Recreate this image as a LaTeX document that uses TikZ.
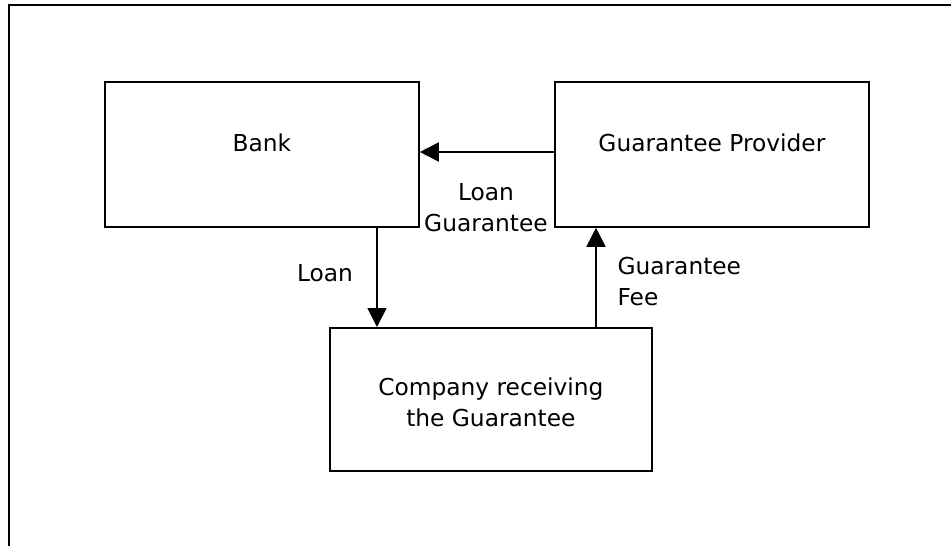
\documentclass[tikz,border=0pt]{standalone}
\usepackage{fontspec}
\setmainfont{DejaVu Sans}
\usetikzlibrary{arrows.meta,calc}

\begin{document}
\begin{tikzpicture}[x=1pt, y=-1pt,
    font=\fontsize{23.3}{31}\selectfont,
    box/.style={draw, line width=1.8pt, minimum width=314pt, minimum height=145pt, inner sep=0pt},
    flow/.style={line width=1.8pt, -{Triangle[length=19pt, width=19pt]}}]

    \useasboundingbox (0,0) rectangle (951,546);

    % 外枠
    \draw[line width=2.2pt] (9,546) -- (9,5) -- (951,5);

    % 箱
    \node[box, anchor=north west] (bank) at (104,81) {};
    \node (bankname) at ([yshift=11.5pt]bank.center) {Bank};
    \node[box, anchor=north west] (provider) at (554,81) {};
    \node (providername) at ([yshift=11.5pt]provider.center) {Guarantee Provider};
    \node[box, anchor=north west, minimum width=322pt, minimum height=143pt] (company) at (329,327) {};
    \node[align=center] (companyname) at ([yshift=-2.5pt]company.center) {Company receiving\\the Guarantee};

    % 矢印
    \draw[flow] (provider.west |- 0,152) -- (bank.east |- 0,152);
    \draw[flow] (bank.south -| 377,0) -- (company.north -| 377,0);
    \draw[flow] (company.north -| 596,0) -- (provider.south -| 596,0);

    % ラベル
    \node[align=center] (guar) at (486,208) {Loan\\Guarantee};
    \node (loan) at (325,273) {Loan};
    \node[align=left, anchor=west] (fee) at (614,282) {Guarantee\\Fee};

\end{tikzpicture}
\end{document}
